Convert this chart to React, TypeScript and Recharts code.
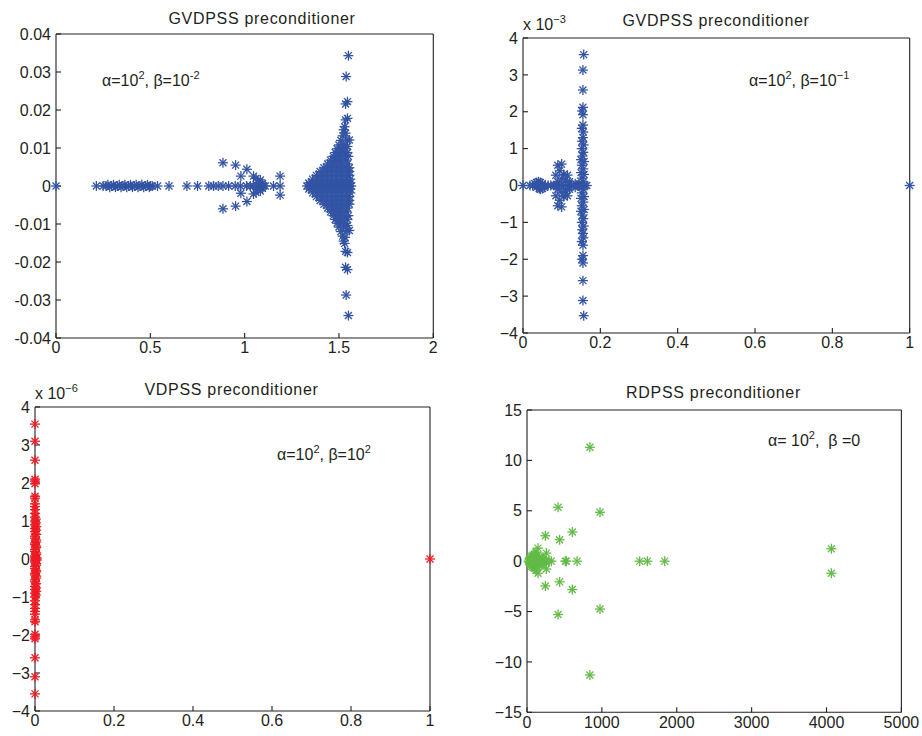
import React from "react";
import { ScatterChart, Scatter, XAxis, YAxis } from "recharts";

const FONT = "'Liberation Sans', Arial, Helvetica, sans-serif";
const INK = "#231f20";
const BLUE = "#3354a4";
const RED = "#ec1c24";
const GREEN = "#62bb47";

// GVDPSS, alpha=1e2, beta=1e-2 (real, imag)
const gvdpssA: number[][] = [
  [0, 0],
  [0.214, 0], [0.25, 0], [0.265, 0], [0.275, 0.0003], [0.285, -0.0003], [0.295, 0], [0.305, 0.0003],
  [0.315, -0.0003], [0.325, 0], [0.335, 0.0003], [0.345, -0.0003], [0.355, 0], [0.365, 0.0003],
  [0.375, -0.0003], [0.385, 0], [0.395, 0.0003], [0.405, -0.0003], [0.415, 0], [0.425, 0.0003],
  [0.435, -0.0003], [0.445, 0], [0.455, 0.0003], [0.465, -0.0003], [0.475, 0], [0.485, 0.0003],
  [0.495, -0.0003], [0.5, 0], [0.51, 0],
  [0.538, 0], [0.599, 0], [0.694, 0], [0.75, 0], [0.81, 0], [0.835, 0], [0.86, 0], [0.885, 0],
  [0.915, 0], [0.95, 0], [0.977, 0], [1.01, 0], [1.03, 0], [1.047, 0], [1.065, 0], [1.083, 0],
  [1.1, 0], [1.109, 0], [1.153, 0], [1.188, 0],
  [0.885, 0.0061], [0.885, -0.006], [0.952, 0.0055], [0.952, -0.0053], [1.012, 0.0044], [1.012, -0.0041],
  [0.98, 0.0026], [0.98, -0.0019], [1.047, 0.0026], [1.047, -0.0021], [1.06, 0.002], [1.06, -0.0017],
  [1.083, 0.0016], [1.083, -0.0013], [1.07, 0.0009], [1.07, -0.0009], [1.095, 0.0007], [1.095, -0.0006],
  [1.188, 0.0026], [1.188, -0.0024],
  [1.33, 0], [1.345, 0], [1.36, 0], [1.375, 0], [1.39, 0], [1.405, 0], [1.42, 0], [1.435, 0], [1.45, 0],
  [1.465, 0], [1.48, 0], [1.495, 0], [1.51, 0], [1.525, 0], [1.54, 0], [1.555, 0], [1.565, 0],
  [1.34, 0.0008], [1.36, 0.0008], [1.38, 0.0008], [1.40, 0.0008], [1.42, 0.0008], [1.44, 0.0008], [1.46, 0.0008], [1.48, 0.0008], [1.50, 0.0008], [1.52, 0.0008], [1.54, 0.0008], [1.56, 0.0008],
  [1.34, -0.0008], [1.36, -0.0008], [1.38, -0.0008], [1.40, -0.0008], [1.42, -0.0008], [1.44, -0.0008], [1.46, -0.0008], [1.48, -0.0008], [1.50, -0.0008], [1.52, -0.0008], [1.54, -0.0008], [1.56, -0.0008],
  [1.36, 0.0018], [1.38, 0.0018], [1.40, 0.0018], [1.42, 0.0018], [1.44, 0.0018], [1.46, 0.0018], [1.48, 0.0018], [1.50, 0.0018], [1.52, 0.0018], [1.54, 0.0018], [1.56, 0.0018],
  [1.36, -0.0018], [1.38, -0.0018], [1.40, -0.0018], [1.42, -0.0018], [1.44, -0.0018], [1.46, -0.0018], [1.48, -0.0018], [1.50, -0.0018], [1.52, -0.0018], [1.54, -0.0018], [1.56, -0.0018],
  [1.38, 0.0028], [1.40, 0.0028], [1.42, 0.0028], [1.44, 0.0028], [1.46, 0.0028], [1.48, 0.0028], [1.50, 0.0028], [1.52, 0.0028], [1.54, 0.0028], [1.555, 0.0028],
  [1.38, -0.0028], [1.40, -0.0028], [1.42, -0.0028], [1.44, -0.0028], [1.46, -0.0028], [1.48, -0.0028], [1.50, -0.0028], [1.52, -0.0028], [1.54, -0.0028], [1.555, -0.0028],
  [1.40, 0.0038], [1.42, 0.0038], [1.44, 0.0038], [1.46, 0.0038], [1.48, 0.0038], [1.50, 0.0038], [1.52, 0.0038], [1.54, 0.0038], [1.555, 0.0038],
  [1.40, -0.0038], [1.42, -0.0038], [1.44, -0.0038], [1.46, -0.0038], [1.48, -0.0038], [1.50, -0.0038], [1.52, -0.0038], [1.54, -0.0038], [1.555, -0.0038],
  [1.42, 0.0048], [1.44, 0.0048], [1.46, 0.0048], [1.48, 0.0048], [1.50, 0.0048], [1.52, 0.0048], [1.54, 0.0048], [1.555, 0.0048],
  [1.42, -0.0048], [1.44, -0.0048], [1.46, -0.0048], [1.48, -0.0048], [1.50, -0.0048], [1.52, -0.0048], [1.54, -0.0048], [1.555, -0.0048],
  [1.44, 0.0058], [1.46, 0.0058], [1.48, 0.0058], [1.50, 0.0058], [1.52, 0.0058], [1.545, 0.0058],
  [1.44, -0.0058], [1.46, -0.0058], [1.48, -0.0058], [1.50, -0.0058], [1.52, -0.0058], [1.545, -0.0058],
  [1.455, 0.0068], [1.475, 0.0068], [1.495, 0.0068], [1.515, 0.0068], [1.54, 0.0068],
  [1.455, -0.0068], [1.475, -0.0068], [1.495, -0.0068], [1.515, -0.0068], [1.54, -0.0068],
  [1.47, 0.0078], [1.49, 0.0078], [1.51, 0.0078], [1.53, 0.0078], [1.55, 0.0078],
  [1.47, -0.0078], [1.49, -0.0078], [1.51, -0.0078], [1.53, -0.0078], [1.55, -0.0078],
  [1.48, 0.0088], [1.50, 0.0088], [1.52, 0.0088], [1.545, 0.0088],
  [1.48, -0.0088], [1.50, -0.0088], [1.52, -0.0088], [1.545, -0.0088],
  [1.49, 0.0098], [1.51, 0.0098], [1.535, 0.0098],
  [1.49, -0.0098], [1.51, -0.0098], [1.535, -0.0098],
  [1.5, 0.0108], [1.525, 0.0108], [1.545, 0.0104],
  [1.5, -0.0108], [1.525, -0.0108], [1.545, -0.0104],
  [1.51, 0.012], [1.542, 0.0121], [1.555, 0.0121],
  [1.51, -0.012], [1.542, -0.0117], [1.555, -0.0117],
  [1.52, 0.0132], [1.535, 0.0139], [1.525, 0.0148], [1.53, 0.0156],
  [1.52, -0.0132], [1.532, -0.0135], [1.525, -0.0145], [1.53, -0.0151],
  [1.535, 0.0174], [1.545, 0.0178], [1.535, 0.0216], [1.545, 0.0222], [1.538, 0.0288], [1.55, 0.0343],
  [1.535, -0.0172], [1.545, -0.0175], [1.535, -0.0214], [1.545, -0.022], [1.538, -0.0287], [1.55, -0.0341],
];

// GVDPSS, alpha=1e2, beta=1e-1 (imag in units of 1e-3)
const gvdpssB: number[][] = [
  [0, 0], [0.018, 0], [0.025, 0], [0.03, 0.05], [0.035, -0.05], [0.04, 0.1], [0.045, -0.1], [0.05, 0.05],
  [0.055, -0.05], [0.04, 0], [0.05, 0], [0.057, 0], [0.045, 0.08], [0.042, -0.08], [0.035, 0.08], [0.05, -0.08],
  [0.065, 0], [0.072, 0], [0.08, 0], [0.088, 0],
  [0.09, 0.55], [0.1, 0.58], [0.095, 0.4], [0.085, 0.28], [0.105, 0.3], [0.115, 0.28], [0.1, 0.18],
  [0.11, 0.15], [0.12, 0.1], [0.09, 0.1], [0.095, 0], [0.105, 0], [0.115, 0], [0.125, 0], [0.085, 0],
  [0.09, -0.1], [0.1, -0.18], [0.11, -0.15], [0.12, -0.1], [0.085, -0.28], [0.105, -0.3], [0.115, -0.28],
  [0.095, -0.4], [0.09, -0.55], [0.1, -0.58], [0.13, 0], [0.135, 0.05], [0.135, -0.05],
  [0.157, 3.55], [0.155, 3.13], [0.155, 2.59], [0.155, 2.12], [0.153, 2.02], [0.155, 1.92], [0.155, 1.64],
  [0.152, 1.55], [0.156, 1.45], [0.155, 1.3], [0.153, 1.2], [0.157, 1.1], [0.152, 1.0], [0.156, 0.9],
  [0.154, 0.8], [0.15, 0.7], [0.158, 0.65], [0.152, 0.55], [0.156, 0.45], [0.15, 0.35], [0.158, 0.3],
  [0.152, 0.2], [0.156, 0.1], [0.145, 0.05], [0.16, 0], [0.145, 0], [0.15, 0], [0.14, 0], [0.165, 0],
  [0.156, -0.1], [0.152, -0.2], [0.158, -0.3], [0.15, -0.35], [0.156, -0.45], [0.152, -0.55],
  [0.158, -0.65], [0.15, -0.7], [0.154, -0.8], [0.156, -0.9], [0.152, -1.0], [0.157, -1.1], [0.153, -1.2],
  [0.155, -1.3], [0.156, -1.42], [0.152, -1.52], [0.155, -1.62], [0.155, -1.9], [0.153, -2.0],
  [0.155, -2.1], [0.155, -2.58], [0.155, -3.12], [0.157, -3.53],
  [1, 0],
];

// VDPSS, alpha=1e2, beta=1e2 (imag in units of 1e-6)
const vdpss: number[][] = [
  [0, 3.55], [0, 3.1], [0, 2.6], [0, 2.1], [0, 2.05], [0, 1.98], [0, 1.65], [0, 1.6], [0, 1.45],
  [0, 1.38], [0, 1.3], [0, 1.2], [0, 1.1], [0.002, 1.05], [0, 1.0], [0.002, 0.95], [0, 0.9], [0.003, 0.85],
  [0, 0.8], [0.003, 0.76], [0, 0.72], [0.003, 0.65], [0, 0.6],
  [0, 0.55], [0.003, 0.5], [0.003, 0.45], [0, 0.42], [0, 0.38], [0.003, 0.34], [0.003, 0.3], [0, 0.25], [0, 0.2], [0.003, 0.16],
  [0.003, 0.12], [0, 0.08], [0, 0.05], [0.004, 0.03], [0, 0], [0.004, 0], [0.004, -0.03], [0, -0.05], [0, -0.08],
  [0.003, -0.12], [0.003, -0.16], [0, -0.2], [0, -0.25], [0.003, -0.3], [0.003, -0.34], [0, -0.38], [0, -0.42],
  [0.003, -0.45], [0.003, -0.5], [0, -0.55], [0, -0.6], [0.003, -0.65], [0, -0.72], [0.003, -0.76], [0, -0.8],
  [0.003, -0.85], [0, -0.9], [0.002, -0.95], [0, -1.0], [0, -1.1], [0, -1.2],
  [0, -1.3], [0, -1.38], [0, -1.45], [0, -1.6], [0, -1.65], [0, -1.98], [0, -2.05], [0, -2.1],
  [0, -2.6], [0, -3.1], [0, -3.55],
  [1, 0],
];

// RDPSS, alpha=1e2, beta=0
const rdpss: number[][] = [
  [840, 11.3], [840, -11.3], [415, 5.35], [415, -5.3], [975, 4.85], [975, -4.75],
  [245, 2.52], [245, -2.46], [436, 2.12], [436, -2.06], [605, 2.89], [605, -2.82],
  [258, 0.8], [258, -0.78], [147, 1.29], [147, -1.2], [4065, 1.23], [4065, -1.2],
  [325, 0], [512, 0], [525, 0], [668, 0], [1505, 0], [1607, 0], [1839, 0],
  [20, 0], [40, 0.3], [40, -0.3], [60, 0.5], [60, -0.5], [70, 0], [90, 0.25], [90, -0.25],
  [100, 0.7], [100, -0.7], [110, 0], [130, 0.4], [130, -0.4], [150, 0], [170, 0.2], [170, -0.2],
  [190, 0], [210, 0.1], [230, 0], [260, 0], [290, 0], [120, 0.9], [120, -0.9], [80, 0.6], [80, -0.6],
  [50, 0.1], [30, -0.1], [200, -0.3], [200, 0.3], [60, 0.15], [75, -0.15], [95, 0.45], [105, -0.45],
  [140, 0.55], [140, -0.55], [160, 0.35], [160, -0.35], [180, 0], [35, 0.2], [45, -0.2], [220, 0.25], [220, -0.25],
];

const ticksA_x = [0, 0.5, 1, 1.5, 2];
const ticksA_y = [-0.04, -0.03, -0.02, -0.01, 0, 0.01, 0.02, 0.03, 0.04];
const ticksUnit_x = [0, 0.2, 0.4, 0.6, 0.8, 1];
const ticksFour_y = [-4, -3, -2, -1, 0, 1, 2, 3, 4];
const ticksR_x = [0, 1000, 2000, 3000, 4000, 5000];
const ticksR_y = [-15, -10, -5, 0, 5, 10, 15];

const hyphen = (v: number) => String(v);
const minus = (v: number) => String(v).replace("-", "\u2212");

function Asterisk(props: any) {
  const { cx, cy, fill } = props;
  if (cx == null || cy == null) return null;
  const r = 5;
  const d = 3.5;
  return (
    <g stroke={fill} strokeWidth={1.3}>
      <line x1={cx - r} y1={cy} x2={cx + r} y2={cy} />
      <line x1={cx} y1={cy - r} x2={cx} y2={cy + r} />
      <line x1={cx - d} y1={cy - d} x2={cx + d} y2={cy + d} />
      <line x1={cx - d} y1={cy + d} x2={cx + d} y2={cy - d} />
    </g>
  );
}

function Panel({ box, points, color, xTicks, yTicks, fmtX, fmtY }: any) {
  const [x0, y0, x1, y1] = box;
  const W = x1 - x0 + 86;
  const H = y1 - y0 + 60;
  const data = points.map(([x, y]: number[]) => ({ x, y }));
  const xDom = [xTicks[0], xTicks[xTicks.length - 1]];
  const yDom = [yTicks[0], yTicks[yTicks.length - 1]];
  const tickStyle = { fill: INK, fontSize: 16, fontFamily: FONT };
  const line = { stroke: INK, strokeWidth: 1.1 };
  return (
    <div style={{ position: "absolute", left: x0 - 60, top: y0 - 30 }}>
      <ScatterChart width={W} height={H} margin={{ top: 29, right: 25, bottom: 0, left: 0 }}>
        <XAxis xAxisId="b" dataKey="x" type="number" domain={xDom} ticks={xTicks} interval={0}
          tickFormatter={fmtX} tick={tickStyle} tickSize={-5} tickMargin={9}
          axisLine={line} tickLine={line} height={30} />
        <XAxis xAxisId="t" orientation="top" type="number" domain={xDom} ticks={xTicks} interval={0}
          tick={false} tickSize={-5} axisLine={line} tickLine={line} height={1} />
        <YAxis yAxisId="l" dataKey="y" type="number" domain={yDom} ticks={yTicks} interval={0}
          tickFormatter={fmtY} tick={tickStyle} tickSize={-5} tickMargin={10}
          axisLine={line} tickLine={line} width={60} />
        <YAxis yAxisId="r" orientation="right" type="number" domain={yDom} ticks={yTicks} interval={0}
          tick={false} tickSize={-5} axisLine={line} tickLine={line} width={1} />
        <Scatter xAxisId="b" yAxisId="l" data={data} fill={color}
          shape={(p: any) => <Asterisk {...p} />} isAnimationActive={false} />
      </ScatterChart>
    </div>
  );
}

const txt: React.CSSProperties = {
  position: "absolute", fontFamily: FONT, fontSize: 16, lineHeight: "16px",
  color: INK, whiteSpace: "nowrap",
};
const sup: React.CSSProperties = { position: "relative", top: -7, fontSize: 11 };

function Title({ cx, top, children }: any) {
  return <div style={{ ...txt, left: cx - 150, width: 300, top, textAlign: "center", letterSpacing: 0.7 }}>{children}</div>;
}

export default function App() {
  return (
    <div style={{ position: "absolute", left: 0, top: 0, width: 922, height: 736, overflow: "hidden", background: "#fff" }}>
      <Panel box={[55.7, 34, 433, 338]} points={gvdpssA} color={BLUE}
        xTicks={ticksA_x} yTicks={ticksA_y} fmtX={hyphen} fmtY={hyphen} />
      <Panel box={[523.3, 38.3, 910, 333.3]} points={gvdpssB} color={BLUE}
        xTicks={ticksUnit_x} yTicks={ticksFour_y} fmtX={minus} fmtY={minus} />
      <Panel box={[35, 406.7, 430, 710.7]} points={vdpss} color={RED}
        xTicks={ticksUnit_x} yTicks={ticksFour_y} fmtX={minus} fmtY={minus} />
      <Panel box={[527.3, 410, 901.7, 712.3]} points={rdpss} color={GREEN}
        xTicks={ticksR_x} yTicks={ticksR_y} fmtX={minus} fmtY={minus} />

      <Title cx={262} top={10.5}>GVDPSS preconditioner</Title>
      <Title cx={716} top={13}>GVDPSS preconditioner</Title>
      <Title cx={231.5} top={381.5}>VDPSS preconditioner</Title>
      <Title cx={713.5} top={384.5}>RDPSS preconditioner</Title>

      <div style={{ ...txt, left: 523, top: 17 }}>x 10<span style={sup}>{"\u22123"}</span></div>
      <div style={{ ...txt, left: 35, top: 385.5 }}>x 10<span style={sup}>{"\u22126"}</span></div>

      <div style={{ ...txt, left: 102, top: 72.5 }}>α=10<span style={sup}>2</span>, β=10<span style={sup}>-2</span></div>
      <div style={{ ...txt, left: 749, top: 72.5 }}>α=10<span style={sup}>2</span>, β=10<span style={sup}>{"\u22121"}</span></div>
      <div style={{ ...txt, left: 277, top: 446.5 }}>α=10<span style={sup}>2</span>, β=10<span style={sup}>2</span></div>
      <div style={{ ...txt, left: 768, top: 432.5 }}>α= 10<span style={sup}>2</span>,&nbsp; β =0</div>
    </div>
  );
}
